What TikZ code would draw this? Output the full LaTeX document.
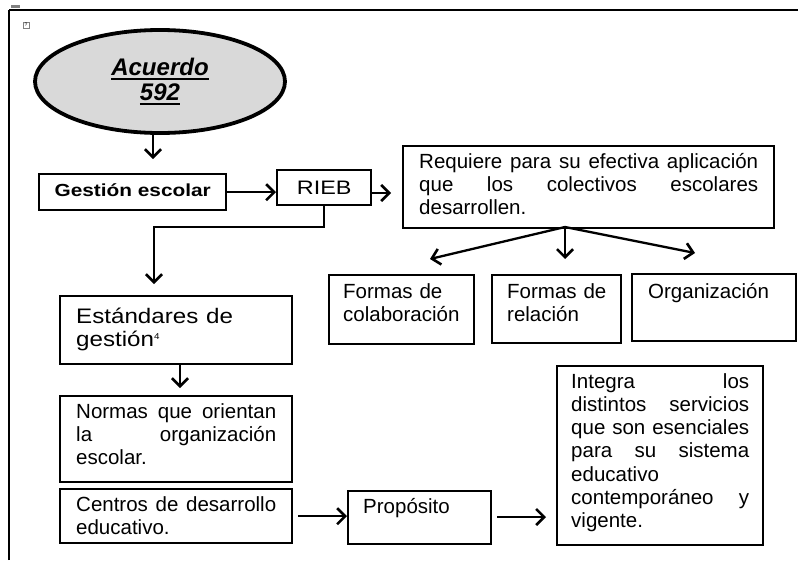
\documentclass[tikz,border=0pt]{standalone}
\usepackage{fontspec}
\setmainfont{Liberation Sans}
\usepackage{graphicx}
\usetikzlibrary{shapes.geometric,arrows.meta,calc}
\newcommand\fsz[2]{\fontsize{#1}{#2}\selectfont}
\newcommand\myul[1]{\setbox0\hbox{#1}\rlap{\rule[-4.7pt]{\wd0}{2pt}}\box0}
\newcommand\jl[2]{\leavevmode\hbox to #1{\spaceskip=0.278em plus 1fil\relax #2}}
\hyphenpenalty=10000
\begin{document}
\begin{tikzpicture}[x=1pt,y=-1pt,
  bx/.style={draw,line width=2.4pt,anchor=north west,inner ysep=0pt,align=left,font=\fsz{20.5}{23.2}},
  arr/.style={line width=2.3pt,-{Straight Barb[length=8pt,width=16pt,line width=2.6pt]}}]
\useasboundingbox (0,0) rectangle (798,560);
% frame
\draw[line width=1.4pt] (9,560) -- (9,10);
\draw[line width=2.6pt] (9,10) -- (798,10);
\fill[gray] (11,5) rectangle (20,8);
\node[draw=gray,line width=0.5pt,inner sep=0.3pt,minimum size=6pt,font=\fsz{5}{5}] (icon) at (26,25) {?};
% ellipse
\node[ellipse,draw,line width=3.8pt,fill=black!15,minimum width=250pt,minimum height=103pt,inner sep=0pt,align=center,font=\fsz{24}{25}\bfseries\itshape] (ell) at (160,81.5) {\myul{Acuerdo}\\\myul{592}};
% boxes
\node[bx,inner xsep=0pt,minimum width=187pt,text height=22pt,text depth=14pt] (ges) at (38,173) {\fsz{17.5}{20}\bfseries\scalebox{1.19}[1]{Gestión escolar}};
\node[bx,inner xsep=0pt,minimum width=94pt,text height=24pt,text depth=11pt] (rieb) at (276,169) {\fsz{19.5}{22}\scalebox{1.2}[1]{RIEB}};
\node[bx,inner xsep=16pt,text width=339pt,text height=22pt,text depth=60pt] (req) at (402,145) {\jl{339pt}{Requiere para su efectiva aplicación}\\\jl{339pt}{que los colectivos escolares}\\desarrollen.};
\node[bx,inner xsep=14pt,text width=117pt,text height=23pt,text depth=46pt] (fc) at (328,274) {\mbox{Formas de}\\colaboración};
\node[bx,inner xsep=15pt,text width=99pt,text height=23pt,text depth=45pt] (fr) at (491,274) {\mbox{Formas de}\\relación};
\node[bx,inner xsep=16pt,text width=132pt,text height=24pt,text depth=43pt] (org) at (631,273) {Organización};
\node[bx,inner xsep=16pt,text width=200pt,text height=27pt,text depth=41pt] (est) at (59,295) {\fsz{21}{28}\scalebox{1.15}[1]{Estándares de}\\\scalebox{1.15}[1]{gestión\raisebox{7pt}{\fsz{8.5}{9}4}}};
\node[bx,inner xsep=16pt,text width=200pt,text height=22pt,text depth=64pt] (nor) at (59,395) {\jl{200pt}{Normas que orientan}\\\jl{200pt}{la organización}\\escolar.};
\node[bx,inner xsep=16pt,text width=200pt,text height=22pt,text depth=32pt] (cen) at (59,488) {\jl{200pt}{Centros de desarrollo}\\educativo.};
\node[bx,inner xsep=15pt,text width=113pt,text height=22pt,text depth=31pt] (pro) at (347,490) {Propósito};
\node[bx,inner xsep=14pt,text width=178pt,text height=22pt,text depth=157pt] (int) at (556,365) {\jl{178pt}{Integra los}\\\jl{178pt}{distintos servicios}\\\jl{178pt}{que son esenciales}\\\jl{178pt}{para su sistema}\\educativo\\\jl{178pt}{contemporáneo y}\\vigente.};
% connectors
\coordinate (a1) at (153,159);
\draw[arr] (ell.south -| a1) -- (a1);
\draw[arr] (ges.east) -- (ges.east -| rieb.west);
\coordinate (a2) at (391,193);
\draw[arr] (rieb.east |- a2) -- (a2);
\coordinate (a3) at (154,227);
\coordinate (a4) at (154,284);
\draw[arr] (rieb.south) |- (a3) -- (a4);
\coordinate (rs) at (565,227);
\coordinate (t1) at (430,259);
\coordinate (t2) at (565,259);
\coordinate (t3) at (695,253);
\draw[arr] (rs) -- (t1);
\draw[arr] (rs) -- (t2);
\draw[arr] (rs) -- (t3);
\coordinate (a5) at (180,388);
\draw[arr] (est.south -| a5) -- (a5);
\draw[arr] ([xshift=5pt]cen.east) -- (cen.east -| pro.west);
\coordinate (a6) at (497,517);
\coordinate (a7) at (546,517);
\draw[arr] (a6) -- (a7);
\end{tikzpicture}
\end{document}
